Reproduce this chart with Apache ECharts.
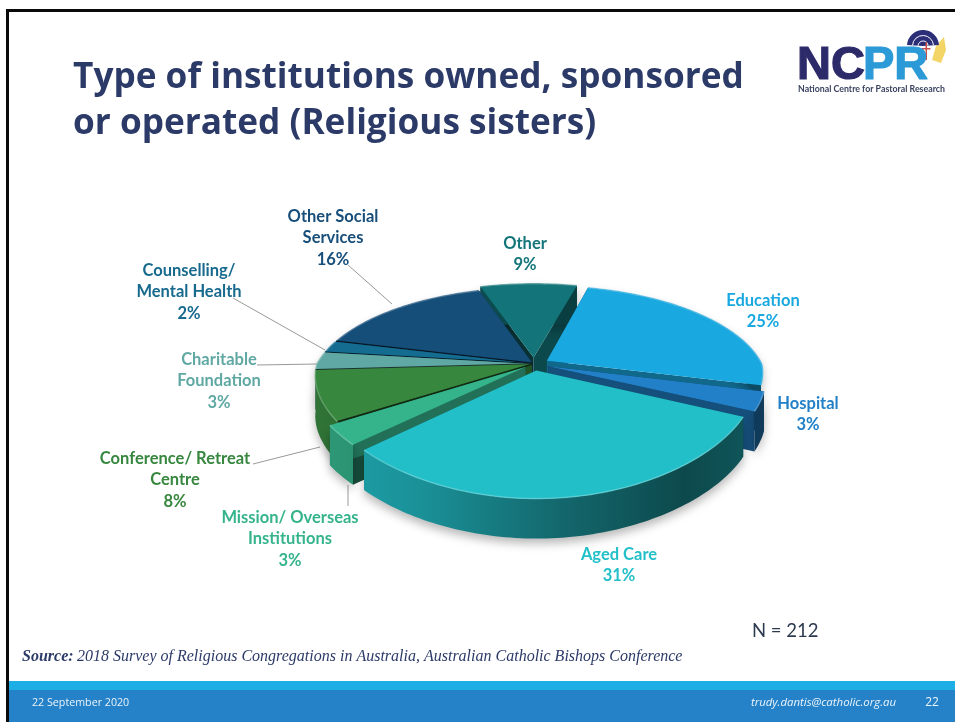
<!DOCTYPE html>
<html><head><meta charset="utf-8">
<style>html,body{margin:0;padding:0;background:#fff}#c{width:955px;height:722px}</style>
<script src="https://cdn.jsdelivr.net/npm/echarts@6/dist/echarts.min.js"></script>
</head><body><div id="c"></div>
<script>
// ---- chart data ----
const categories = ['Education','Hospital','Aged Care','Mission/ Overseas\nInstitutions','Conference/ Retreat\nCentre','Charitable\nFoundation','Counselling/\nMental Health','Other Social\nServices','Other'];
const shares = [25,3,31,3,8,3,2,16,9];
const sliceColors = ['#1AA8E0','#2280C8','#22BFC8','#35B48C','#37873F','#5FA8A3','#146C90','#164E7A','#13757A'];
const labelColors = ['#1AA8E0','#2280C8','#22BFC8','#35B48C','#37873F','#5FA8A3','#176A8E','#174E7A','#13757A'];
const title = 'Type of institutions owned, sponsored\nor operated (Religious sisters)';
const sourceLead = 'Source:';
const sourceText = '2018 Survey of Religious Congregations in Australia, Australian Catholic Bishops Conference';
const sampleNote = 'N = 212';
const footerDate = '22 September 2020';
const footerMail = 'trudy.dantis@catholic.org.au';
const footerPage = '22';

// ---- layout ----
const CX = 534, CY = 364, R = 215, TILT = 0.437, PERSP = 0.237, PERSP_FRONT_X = 0.12, DEPTH = 40;
const explode = [0.07,0.07,0.07,0.05,0.01,0.01,0.01,0.01,0.07];
const labelPos = [[763,311],[808,414],[619,565],[290,539],[175,480],[219,381],[189,292],[333,238],[525,254]];
const leaders = [null,null,null,[[348,485],[348,506]],[[253,464],[320,447]],[[257,365],[317,364]],[[233,298],[325,350]],[[348,265],[392,304]],null];

const cumulative = shares.reduce((a,v)=>{a.push(a[a.length-1]+v);return a;},[0]);
const seriesData = shares.map((v,i)=>[1,cumulative[i],v]);

function shade(hex,f){
  const n=parseInt(hex.slice(1),16);
  const ch=[(n>>16)&255,(n>>8)&255,n&255].map(c=>Math.round(f<=1?c*f:c+(255-c)*(f-1)));
  return 'rgb('+ch.join(',')+')';
}

function renderSlice(params,api){
  const i=params.dataIndex, start=api.value(1), val=api.value(2);
  const unit=(r,pct)=>{const p=api.coord([r,pct]);return [(p[0]-CX)/R,(CY-p[1])/R];};
  const mid=unit(1,start+val/2);
  const ex=mid[0]*explode[i], ey=mid[1]*explode[i];
  const proj=(u,h)=>{
    const X=u[0]+ex,Y=u[1]+ey,s=1/(1+PERSP*Y);
    const sx=Y>0?s:1/(1+PERSP_FRONT_X*Y);
    return [CX+R*X*sx,CY-R*TILT*Y*s+h];
  };
  const arc=[];
  const steps=Math.max(4,Math.round(val*3));
  for(let k=0;k<=steps;k++) arc.push(unit(1,start+val*k/steps));
  const topArc=arc.map(u=>proj(u,0)), botArc=arc.map(u=>proj(u,DEPTH));
  const apex=proj([0,0],0), apexB=proj([0,0],DEPTH);
  const base=sliceColors[i];
  const z=Math.round(-mid[1]*100)+200;
  const wallFill={type:'linear',global:true,x:CX-R,y:0,x2:CX+R,y2:0,colorStops:[
    {offset:0,color:shade(base,0.85)},{offset:0.25,color:shade(base,0.75)},{offset:0.55,color:shade(base,0.55)},
    {offset:0.85,color:shade(base,0.38)},{offset:1,color:shade(base,0.45)}]};
  const children=[];
  if(leaders[i]) children.push({type:'polyline',z2:1,silent:true,
    shape:{points:leaders[i]},style:{fill:null,stroke:'#9a9a9a',lineWidth:1}});
  // cut faces
  [[topArc[0],botArc[0],0.42],[topArc[steps],botArc[steps],0.62]].forEach(f=>{
    children.push({type:'polygon',z2:z,shape:{points:[apex,f[0],f[1],apexB]},style:{fill:shade(base,f[2])}});
  });
  // rim
  children.push({type:'polygon',z2:z+1,shape:{points:topArc.concat(botArc.slice().reverse())},
    style:{fill:wallFill,shadowBlur:10,shadowColor:'rgba(0,0,0,0.28)',shadowOffsetY:5}});
  // top face
  children.push({type:'polygon',z2:z+2,shape:{points:[apex].concat(topArc)},style:{fill:base}});
  children.push({type:'polyline',z2:z+3,shape:{points:topArc},style:{fill:null,stroke:shade(base,1.28),lineWidth:1.4,opacity:0.8}});
  if(explode[i]<0.05) children.push({type:'polyline',z2:z+3,shape:{points:[apex,topArc[0]]},style:{fill:null,stroke:shade(base,0.3),lineWidth:1.6}});
  // label
  children.push({type:'text',z2:900,silent:true,x:labelPos[i][0],y:labelPos[i][1],
    style:{text:categories[i]+'\n'+val+'%',fill:labelColors[i],font:'bold 16.5px Lato',lineHeight:21.5,align:'center',verticalAlign:'middle'}});
  return {type:'group',children};
}

const chart=echarts.init(document.getElementById('c'),null,{renderer:'canvas'});
chart.setOption({
  animation:false,
  backgroundColor:'#ffffff',
  polar:{center:[CX,CY],radius:R},
  angleAxis:{type:'value',min:0,max:100,startAngle:75.5,show:false},
  radiusAxis:{type:'value',min:0,max:1,show:false},
  series:[{type:'custom',coordinateSystem:'polar',data:seriesData,encode:{radius:0,angle:1},renderItem:renderSlice,silent:true,z:5}],
  graphic:[
    {type:'rect',z:1,shape:{x:6,y:9,width:949,height:3},style:{fill:'#0a0a0a'}},
    {type:'rect',z:1,shape:{x:6,y:9,width:3,height:713},style:{fill:'#0a0a0a'}},
    {type:'rect',z:1,shape:{x:9,y:681,width:946,height:9},style:{fill:'#1CAEE4'}},
    {type:'rect',z:1,shape:{x:9,y:690,width:946,height:32},style:{fill:'#2682C8'}},
    {type:'text',z:3,x:73,y:101,style:{text:title,font:'bold 35.2px "Open Sans"',fill:'#2C3A68',lineHeight:46,verticalAlign:'middle'}},
    {type:'text',z:3,x:752,y:631,style:{text:sampleNote,font:'18.5px Lato',fill:'#2C3A50',verticalAlign:'middle'}},
    {type:'text',z:3,x:22,y:657,style:{text:sourceLead,font:'italic bold 16px "Liberation Serif"',fill:'#2C3A68',verticalAlign:'middle'}},
    {type:'text',z:3,x:77,y:657,style:{text:sourceText,font:'italic 16px "Liberation Serif"',fill:'#2C3A68',verticalAlign:'middle'}},
    {type:'text',z:3,x:32,y:703,style:{text:footerDate,font:'10.7px "Open Sans"',fill:'#EAF4FB',verticalAlign:'middle'}},
    {type:'text',z:3,x:896,y:703,style:{text:footerMail,font:'italic 11.4px "Open Sans"',fill:'#EAF4FB',align:'right',verticalAlign:'middle'}},
    {type:'text',z:3,x:932,y:703,style:{text:footerPage,font:'12px "Open Sans"',fill:'#EAF4FB',align:'center',verticalAlign:'middle'}},
    // logo
    {type:'text',z:3,x:797,y:66,style:{text:'NC',font:'bold 47px "Liberation Sans"',fill:'#2D2A6A',stroke:'#2D2A6A',lineWidth:1.2,verticalAlign:'middle'}},
    {type:'text',z:3,x:863,y:66,style:{text:'PR',font:'bold 47px "Liberation Sans"',fill:'#2C9AD6',stroke:'#2C9AD6',lineWidth:1.2,verticalAlign:'middle'}},
    {type:'text',z:3,x:798,y:89,style:{text:'National Centre for Pastoral Research',font:'bold 8.8px "Lato"',fill:'#3A4260',verticalAlign:'middle'}},
    {type:'polygon',z:2,shape:{points:[[936,46],[944,37],[946,50],[941,63],[932,60]]},style:{fill:'#F2D566'}},
    {type:'sector',z:2,shape:{cx:923,cy:46,r:16,r0:0,startAngle:Math.PI*1.02,endAngle:Math.PI*1.98},style:{fill:'#2A2F78'}},
    {type:'arc',z:2,shape:{cx:923,cy:46,r:10.5,startAngle:Math.PI*1.02,endAngle:Math.PI*1.98},style:{fill:null,stroke:'#fff',lineWidth:1}},
    {type:'arc',z:2,shape:{cx:923,cy:46,r:5,startAngle:Math.PI*1.02,endAngle:Math.PI*1.98},style:{fill:null,stroke:'#fff',lineWidth:1}},
    {type:'rect',z:2,shape:{x:925.5,y:42,width:1.5,height:18},style:{fill:'#C8504A'}},
    {type:'rect',z:2,shape:{x:921.5,y:48,width:9,height:1.5},style:{fill:'#C8504A'}}
  ]
});
</script></body></html>
